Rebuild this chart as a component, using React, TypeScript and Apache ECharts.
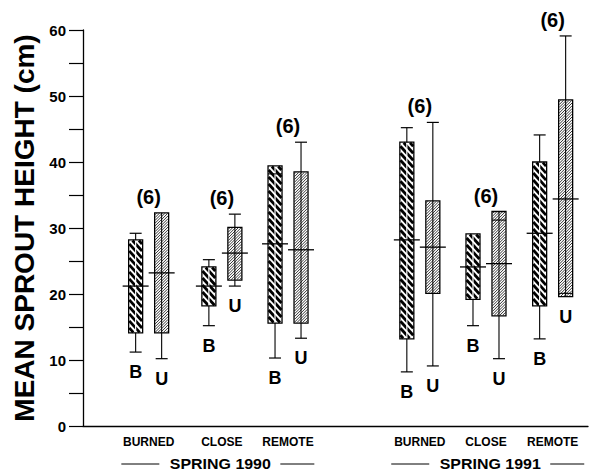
import React, { useEffect, useRef } from 'react';
import * as echarts from 'echarts';

// ---------------- data ----------------
const categories = ['BURNED', 'CLOSE', 'REMOTE', 'BURNED', 'CLOSE', 'REMOTE'];
const seasons = ['SPRING 1990', 'SPRING 1991'];
const sampleSizes = [6, 6, 6, 6, 6, 6];
const boxNames = ['B', 'U'];
// [min, q1, median, q3, max] for burned-site (B) boxes
const statsB = [
  [11.2, 14.1, 21.2, 28.2, 29.2],
  [15.2, 18.2, 21.2, 24.1, 25.2],
  [10.3, 15.6, 27.6, 39.4, 39.4],
  [8.2, 13.2, 28.2, 43.0, 45.2],
  [15.2, 19.2, 24.1, 29.1, 29.1],
  [13.2, 18.2, 29.2, 40.0, 44.1],
];
// [min, q1, median, q3, max] for unburned (U) boxes
const statsU = [
  [10.2, 14.1, 23.2, 32.3, 32.3],
  [21.2, 22.1, 26.2, 30.1, 32.1],
  [13.3, 15.6, 26.7, 38.5, 43.0],
  [9.1, 20.1, 27.1, 34.1, 46.0],
  [10.2, 16.7, 24.6, 32.5, 32.5],
  [19.6, 19.6, 34.4, 49.4, 59.1],
];
// secondary box edge inside some boxes
const innerB = [null, null, 38.2, null, null, null];
const innerU = [null, null, null, null, 31.2, 20.1];
const yTicks = [0, 10, 20, 30, 40, 50, 60];

// ---------------- layout ----------------
const groupX = [1.3, 2.75, 4.06, 6.67, 7.98, 9.3];
const PAIR_OFFSET = 13;
const BOX_W = 14;
const CAP_W = 12;
const MED_HALF = 13;
const FONT = "'Liberation Sans', Arial, Helvetica, sans-serif";

type Box = { g: number; kind: number; s: number[]; inner: number | null };
const boxes: Box[] = [];
for (let g = 0; g < categories.length; g++) {
  boxes.push({ g, kind: 0, s: statsB[g], inner: innerB[g] });
  boxes.push({ g, kind: 1, s: statsU[g], inner: innerU[g] });
}

function hatch(x0: number, y0: number, x1: number, y1: number, k: number, spacing: number, lw: number) {
  const cs = [y0 - k * x0, y0 - k * x1, y1 - k * x0, y1 - k * x1];
  const cMin = Math.min(...cs);
  const cMax = Math.max(...cs);
  const els: any[] = [];
  for (let c = cMin + spacing / 2; c < cMax; c += spacing) {
    let xa = (y0 - c) / k;
    let xb = (y1 - c) / k;
    if (xa > xb) { const t = xa; xa = xb; xb = t; }
    xa = Math.max(xa, x0);
    xb = Math.min(xb, x1);
    if (xb - xa < 0.4) continue;
    els.push({
      type: 'line',
      shape: { x1: xa, y1: k * xa + c, x2: xb, y2: k * xb + c },
      style: { stroke: '#000', lineWidth: lw },
      silent: true,
    });
  }
  return els;
}

function renderBox(params: any, api: any) {
  const b = boxes[params.dataIndex];
  const [mn, q1, md, q3, mx] = b.s;
  const base = api.coord([groupX[b.g], 0]);
  const cx = base[0] + (b.kind === 0 ? -PAIR_OFFSET : PAIR_OFFSET);
  const py = (v: number) => api.coord([groupX[b.g], v])[1];
  const yTop = py(q3);
  const yBot = py(q1);
  const x0 = cx - BOX_W / 2;
  const x1 = cx + BOX_W / 2;
  const children: any[] = [];
  children.push({ type: 'rect', shape: { x: x0, y: yTop, width: BOX_W, height: yBot - yTop }, style: { fill: '#fff' } });
  if (b.kind === 0) {
    children.push(...hatch(x0 + 0.6, yTop + 0.6, x1 - 0.6, yBot - 0.6, 1.1, 7, 2.8));
    children.push({ type: 'line', shape: { x1: cx, y1: yTop, x2: cx, y2: yBot }, style: { stroke: '#fff', lineWidth: 1.2 } });
  } else {
    children.push(...hatch(x0 + 0.5, yTop + 0.5, x1 - 0.5, yBot - 0.5, -1, 2.8, 0.8));
    children.push({ type: 'line', shape: { x1: cx, y1: yTop, x2: cx, y2: yBot }, style: { stroke: '#000', lineWidth: 1 } });
  }
  if (b.inner != null) {
    const yi = py(b.inner);
    children.push({ type: 'line', shape: { x1: x0, y1: yi, x2: x1, y2: yi }, style: { stroke: '#000', lineWidth: 1.1 } });
  }
  children.push({ type: 'rect', shape: { x: x0, y: yTop, width: BOX_W, height: yBot - yTop }, style: { fill: 'none', stroke: '#000', lineWidth: 1.3 } });
  const yMax = py(mx);
  const yMin = py(mn);
  if (mx > q3) {
    children.push({ type: 'line', shape: { x1: cx, y1: yMax, x2: cx, y2: yTop }, style: { stroke: '#000', lineWidth: 1.1 } });
    children.push({ type: 'line', shape: { x1: cx - CAP_W / 2, y1: yMax, x2: cx + CAP_W / 2, y2: yMax }, style: { stroke: '#000', lineWidth: 1.2 } });
  }
  if (mn < q1) {
    children.push({ type: 'line', shape: { x1: cx, y1: yBot, x2: cx, y2: yMin }, style: { stroke: '#000', lineWidth: 1.1 } });
    children.push({ type: 'line', shape: { x1: cx - CAP_W / 2, y1: yMin, x2: cx + CAP_W / 2, y2: yMin }, style: { stroke: '#000', lineWidth: 1.2 } });
  }
  const yMed = py(md);
  children.push({ type: 'line', shape: { x1: cx - MED_HALF, y1: yMed, x2: cx + MED_HALF, y2: yMed }, style: { stroke: '#000', lineWidth: 1.3 } });
  children.push({
    type: 'text',
    x: cx,
    y: Math.max(yMin, yBot) + 20,
    style: { text: boxNames[b.kind], fill: '#000', fontSize: 18, fontWeight: 'bold', fontFamily: FONT, align: 'center', verticalAlign: 'middle' },
  });
  return { type: 'group', children };
}

function renderCount(params: any, api: any) {
  const g = params.dataIndex;
  const top = Math.max(statsB[g][4], statsU[g][4]);
  const p = api.coord([groupX[g], top]);
  return {
    type: 'text',
    x: p[0],
    y: p[1] - 16,
    style: { text: '(' + sampleSizes[g] + ')', fill: '#000', fontSize: 20, fontWeight: 'bold', fontFamily: FONT, align: 'center', verticalAlign: 'middle' },
  };
}

export default function App() {
  const ref = useRef<HTMLDivElement>(null);
  useEffect(() => {
    if (!ref.current) return;
    const chart = echarts.init(ref.current, undefined, { renderer: 'svg' });
    chart.setOption({
      animation: false,
      backgroundColor: '#fff',
      grid: { left: 83, right: 1, top: 30, bottom: 48, containLabel: false },
      xAxis: {
        type: 'value',
        min: 0,
        max: 10,
        splitLine: { show: false },
        axisTick: { show: false },
        axisLine: { show: true, lineStyle: { color: '#000', width: 1.3 } },
        axisLabel: {
          customValues: groupX,
          formatter: (v: number) => {
            let best = 0;
            for (let i = 0; i < groupX.length; i++) if (Math.abs(groupX[i] - v) < Math.abs(groupX[best] - v)) best = i;
            return categories[best];
          },
          color: '#000',
          fontSize: 12,
          fontWeight: 'bold',
          fontFamily: FONT,
          margin: 10,
        },
      },
      yAxis: {
        type: 'value',
        min: 0,
        max: 60,
        interval: 10,
        name: 'MEAN SPROUT HEIGHT (cm)',
        nameLocation: 'middle',
        nameRotate: 90,
        nameGap: 42,
        nameTextStyle: { color: '#000', fontSize: 28, fontWeight: 'bold', fontFamily: FONT },
        splitLine: { show: false },
        axisLine: { show: true, lineStyle: { color: '#000', width: 1.3 } },
        axisTick: { show: true, inside: false, length: 14, lineStyle: { color: '#000', width: 1.2 } },
        minorTick: { show: true, splitNumber: 2, length: 14, lineStyle: { color: '#000', width: 1.2 } },
        axisLabel: {
          color: '#000',
          fontSize: 15,
          fontWeight: 'bold',
          fontFamily: FONT,
          margin: 17,
          formatter: (v: number) => (yTicks.indexOf(v) >= 0 ? String(v) : ''),
        },
      },
      series: [
        {
          type: 'custom',
          name: 'boxes',
          clip: false,
          renderItem: renderBox,
          encode: { x: 0, y: [1, 2, 3, 4, 5] },
          data: boxes.map((b) => [groupX[b.g], ...b.s]),
        },
        {
          type: 'custom',
          name: 'counts',
          clip: false,
          renderItem: renderCount,
          encode: { x: 0, y: 1 },
          data: groupX.map((x, g) => [x, Math.max(statsB[g][4], statsU[g][4])]),
        },
      ],
    });
    const yLab = 464;
    const centers = [
      (chart.convertToPixel({ xAxisIndex: 0 }, groupX[0]) + chart.convertToPixel({ xAxisIndex: 0 }, groupX[2])) / 2,
      (chart.convertToPixel({ xAxisIndex: 0 }, groupX[3]) + chart.convertToPixel({ xAxisIndex: 0 }, groupX[5])) / 2,
    ];
    const graphic: any[] = [];
    seasons.forEach((s, i) => {
      const c = centers[i] + (i === 0 ? 2 : 4);
      graphic.push({
        type: 'text',
        x: c,
        y: yLab,
        scaleX: 1.1,
        style: { text: s, fill: '#000', fontSize: 14.5, fontWeight: 'bold', fontFamily: FONT, align: 'center', verticalAlign: 'middle' },
      });
      graphic.push({ type: 'line', shape: { x1: c - 99, y1: yLab, x2: c - 61, y2: yLab }, style: { stroke: '#000', lineWidth: 1 } });
      graphic.push({ type: 'line', shape: { x1: c + 60, y1: yLab, x2: c + 94, y2: yLab }, style: { stroke: '#000', lineWidth: 1 } });
    });
    chart.setOption({ graphic });
    return () => chart.dispose();
  }, []);
  return (
    <div
      ref={ref}
      style={{ position: 'fixed', left: 0, top: 0, width: 589, height: 474, background: '#fff' }}
    />
  );
}
